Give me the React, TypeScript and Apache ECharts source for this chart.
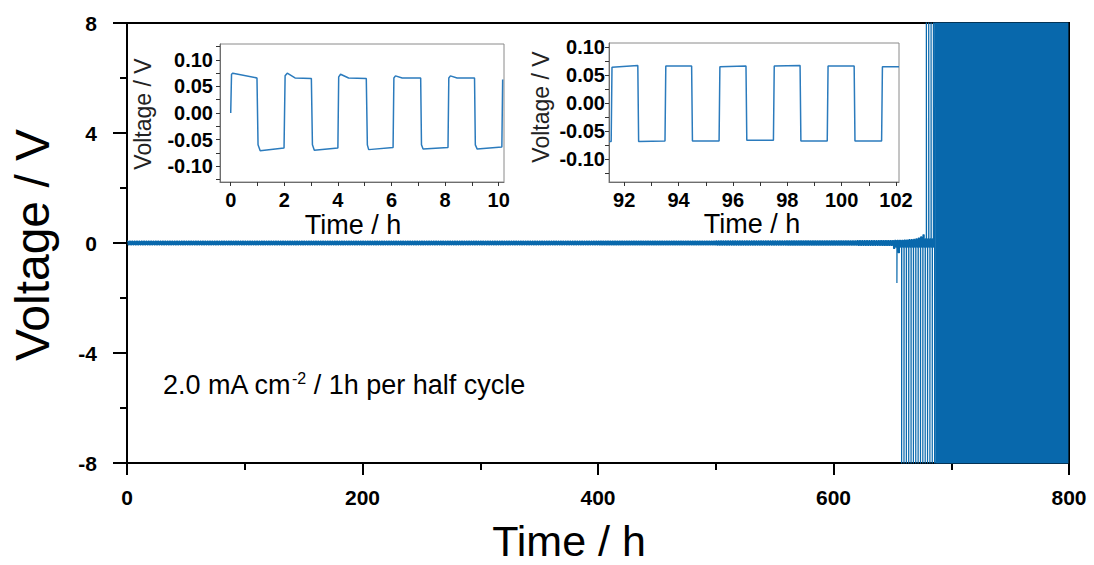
import React, { useEffect, useRef } from "react";
import * as echarts from "echarts";

const FONT = '"Liberation Sans", Arial, Helvetica, sans-serif';

// ---------- main chart data ----------
// Galvanostatic cycling protocol: 1 h per half cycle, charge (+) first
const halfCycleHours = 1;
const totalHours = 800;
// Stable polarisation amplitude (V) read per time block (block start hours)
const ampBlockStart = [0, 100, 200, 300, 400, 500, 560, 620, 640];
const ampBlockValue = [0.066, 0.066, 0.067, 0.068, 0.07, 0.074, 0.08, 0.085, 0.09];
// Failure region, per full cycle (2 h) starting at failStartHour
const failStartHour = 650;
const failPosPeak = [0.09, 0.1, 0.1, 0.1, 0.1, 0.11, 0.11, 0.12, 0.12, 0.13, 0.15, 0.18, 0.22, 0.3, 10, 10, 10, 10];
const failNegPeak = [-0.2, -1.45, -0.35, -10, -10, -10, -10, -10, -10, -10, -10, -10, -10, -10, -10, -10, -10, -10];
const failBase = 0.15; // plateau before a short voltage spike
const spikeAt = 0.85; // fraction of the half cycle where a spike begins
// Fully failed after this hour: voltage pegged beyond both limits
const shortStartHour = 686;
const shortPeak = 10;

// Inset 1 (0–10 h)
const inset1Time = [0, 0.03, 0.08, 0.98, 1.02, 1.1, 1.99, 2.03, 2.11, 2.4, 3.01, 3.05, 3.12, 4.0, 4.03, 4.1, 4.4, 5.06, 5.1, 5.15, 6.06, 6.09, 6.15, 6.4, 7.09, 7.12, 7.18, 8.11, 8.14, 8.2, 8.45, 9.1, 9.13, 9.2, 10.12, 10.15];
const inset1Volt = [0, 0.073, 0.075, 0.066, -0.06, -0.071, -0.066, 0.07, 0.075, 0.066, 0.065, -0.06, -0.07, -0.066, 0.068, 0.073, 0.066, 0.065, -0.06, -0.069, -0.065, 0.066, 0.07, 0.066, 0.066, -0.06, -0.068, -0.065, 0.066, 0.07, 0.066, 0.066, -0.06, -0.068, -0.064, 0.063];

// Inset 2 (91.4–102 h)
const inset2Time = [91.44, 91.52, 91.55, 92.5, 92.53, 93.5, 93.53, 94.48, 94.51, 95.49, 95.52, 96.48, 96.51, 97.49, 97.52, 98.47, 98.5, 99.47, 99.5, 100.46, 100.49, 101.47, 101.5, 102.11];
const inset2Volt = [-0.068, -0.068, 0.064, 0.067, -0.068, -0.067, 0.066, 0.066, -0.067, -0.067, 0.065, 0.066, -0.066, -0.066, 0.066, 0.067, -0.067, -0.067, 0.066, 0.066, -0.067, -0.067, 0.065, 0.065];

// Tick labels
const mainXTicks = [0, 200, 400, 600, 800];
const mainYTicks = [-8, -4, 0, 4, 8];
const inset1XTicks = [0, 2, 4, 6, 8, 10];
const inset1XMinor = [0, 1, 2, 3, 4, 5, 6, 7, 8, 9, 10];
const inset2XTicks = [92, 94, 96, 98, 100, 102];
const inset2XMinor = [92, 93, 94, 95, 96, 97, 98, 99, 100, 101, 102];
const insetYTicks = [-0.1, -0.05, 0, 0.05, 0.1];
const insetYMinor = [-0.125, -0.1, -0.075, -0.05, -0.025, 0, 0.025, 0.05, 0.075, 0.1, 0.125];

function stableAmp(h: number): number {
  let amp = ampBlockValue[0];
  for (let k = 0; k < ampBlockStart.length; k++) if (h >= ampBlockStart[k]) amp = ampBlockValue[k];
  return amp;
}

function buildMain(): number[][] {
  const pts: number[][] = [];
  for (let h = 0; h < totalHours; h += halfCycleHours) {
    const positive = h % 2 === 0;
    const sign = positive ? 1 : -1;
    if (h >= shortStartHour) {
      pts.push([h, sign * shortPeak], [h + halfCycleHours, sign * shortPeak]);
    } else if (h >= failStartHour) {
      const i = Math.floor((h - failStartHour) / 2);
      const peak = positive ? failPosPeak[i] : failNegPeak[i];
      if (Math.abs(peak) > 1) {
        const t = h + spikeAt * halfCycleHours;
        pts.push([h, sign * failBase], [t, sign * failBase], [t, peak], [h + halfCycleHours, peak]);
      } else {
        pts.push([h, peak], [h + halfCycleHours, peak]);
      }
    } else {
      const v = sign * stableAmp(h);
      pts.push([h, v], [h + halfCycleHours, v]);
    }
  }
  return pts;
}

const zip = (a: number[], b: number[]) => a.map((x, i) => [x, b[i]]);

export default function App() {
  const ref = useRef<HTMLDivElement>(null);
  useEffect(() => {
    if (!ref.current) return;
    const chart = echarts.init(ref.current, undefined, { renderer: "svg" });
    const black = "#000";
    const mainLabel = { color: black, fontFamily: FONT, fontWeight: "bold", fontSize: 21 };
    const insetLabel = { color: black, fontFamily: FONT, fontWeight: "bold", fontSize: 20 };
    const insetX = (gridIndex: number, min: number, max: number, ticks: number[], minor: number[]) => ({
      type: "value", gridIndex, min, max,
      axisLine: { show: true, onZero: false, lineStyle: { color: "#6e6e6e", width: 1 } },
      axisTick: { show: true, customValues: minor, length: 4, lineStyle: { color: "#333", width: 1 } },
      axisLabel: { ...insetLabel, customValues: ticks, margin: 8 },
      splitLine: { show: false },
    });
    const insetY = (gridIndex: number, min: number, max: number, margin: number) => ({
      type: "value", gridIndex, min, max,
      axisLine: { show: true, onZero: false, lineStyle: { color: "#6e6e6e", width: 1 } },
      axisTick: { show: true, customValues: insetYMinor, length: 4, lineStyle: { color: "#333", width: 1 } },
      axisLabel: { ...insetLabel, customValues: insetYTicks, margin, formatter: (v: number) => v.toFixed(2) },
      splitLine: { show: false },
    });
    const option: any = {
      animation: false,
      backgroundColor: "#fff",
      grid: [
        { left: 127, top: 23, width: 942, height: 440, show: true, borderColor: black, borderWidth: 2, backgroundColor: "transparent" },
        { left: 220, top: 44, width: 284, height: 138, show: true, borderColor: "#8a8a8a", borderWidth: 1, backgroundColor: "#fff" },
        { left: 609, top: 43, width: 290, height: 139, show: true, borderColor: "#8a8a8a", borderWidth: 1, backgroundColor: "#fff" },
      ],
      xAxis: [
        {
          type: "value", gridIndex: 0, min: 0, max: 800, interval: 200,
          axisLine: { onZero: false, lineStyle: { color: black, width: 2 } },
          axisTick: { length: 12, lineStyle: { color: black, width: 2 } },
          minorTick: { show: true, splitNumber: 2, length: 7, lineStyle: { color: black, width: 2 } },
          axisLabel: { ...mainLabel, margin: 24, customValues: mainXTicks },
          splitLine: { show: false },
        },
        insetX(1, -0.4, 10.2, inset1XTicks, inset1XMinor),
        insetX(2, 91.44, 102.11, inset2XTicks, inset2XMinor),
      ],
      yAxis: [
        {
          type: "value", gridIndex: 0, min: -8, max: 8, interval: 4,
          axisLine: { show: true, onZero: false, lineStyle: { color: black, width: 2 } },
          axisTick: { show: true, length: 14, lineStyle: { color: black, width: 2 } },
          minorTick: { show: true, splitNumber: 2, length: 7, lineStyle: { color: black, width: 2 } },
          axisLabel: { ...mainLabel, margin: 30, customValues: mainYTicks },
          splitLine: { show: false },
        },
        insetY(1, -0.13, 0.13, 7),
        insetY(2, -0.14, 0.107, 4),
      ],
      series: [
        {
          type: "line", xAxisIndex: 0, yAxisIndex: 0, data: buildMain(), showSymbol: false, clip: true,
          lineStyle: { color: "#0868ac", width: 1.2 }, itemStyle: { color: "#0868ac" }, z: 2,
        },
        {
          type: "line", xAxisIndex: 1, yAxisIndex: 1, data: zip(inset1Time, inset1Volt), showSymbol: false, clip: true,
          lineStyle: { color: "#2b7bbd", width: 1.5 }, z: 5,
        },
        {
          type: "line", xAxisIndex: 2, yAxisIndex: 2, data: zip(inset2Time, inset2Volt), showSymbol: false, clip: true,
          lineStyle: { color: "#2b7bbd", width: 1.5 }, z: 5,
        },
      ],
      graphic: [
        { type: "text", x: 32, y: 245, rotation: Math.PI / 2, style: { text: "Voltage / V", font: `48px ${FONT}`, fill: black, align: "center", verticalAlign: "middle" } },
        { type: "text", x: 569, y: 541, style: { text: "Time / h", font: `43px ${FONT}`, fill: black, align: "center", verticalAlign: "middle" } },
        { type: "text", x: 143, y: 114, rotation: Math.PI / 2, style: { text: "Voltage / V", font: `23px ${FONT}`, fill: "#222", align: "center", verticalAlign: "middle" } },
        { type: "text", x: 353, y: 225, style: { text: "Time / h", font: `27px ${FONT}`, fill: black, align: "center", verticalAlign: "middle" } },
        { type: "text", x: 541, y: 107, rotation: Math.PI / 2, style: { text: "Voltage / V", font: `23px ${FONT}`, fill: "#222", align: "center", verticalAlign: "middle" } },
        { type: "text", x: 752, y: 224, style: { text: "Time / h", font: `27px ${FONT}`, fill: black, align: "center", verticalAlign: "middle" } },
        {
          type: "text", x: 163, y: 385,
          style: {
            text: "{n|2.0 mA cm}{s|-2}{n| / 1h per half cycle}",
            fill: black, verticalAlign: "middle", align: "left",
            rich: {
              n: { fontSize: 27, fontFamily: FONT, fill: black, lineHeight: 30 },
              s: { fontSize: 16, fontFamily: FONT, fill: black, lineHeight: 30, verticalAlign: "top" },
            },
          },
        },
      ],
    };
    chart.setOption(option);
    return () => chart.dispose();
  }, []);
  return <div ref={ref} style={{ width: 1094, height: 565, position: "absolute", left: 0, top: 0 }} />;
}
